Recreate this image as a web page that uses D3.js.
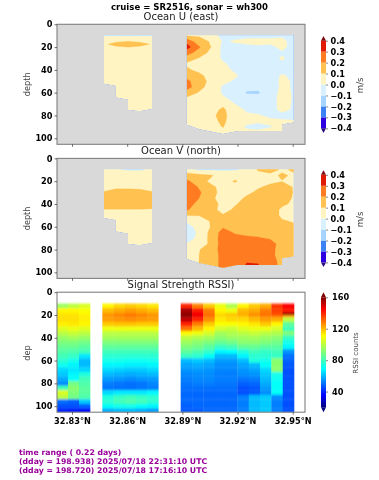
<!DOCTYPE html>
<html><head><meta charset="utf-8">
<script src="https://cdn.jsdelivr.net/npm/d3@7/dist/d3.min.js"></script>
<style>html,body{margin:0;padding:0;background:#fff}svg{display:block;filter:blur(0.35px)}text{font-family:"DejaVu Sans",sans-serif}</style>
</head><body><svg id="c" width="379" height="480"></svg>
<script>
const suptitle = "cruise = SR2516,  sonar = wh300";
const panelTitles = ["Ocean U (east)", "Ocean V (north)", "Signal Strength RSSI)"];
const yLabels = ["depth", "depth", "dep"];
const footer = ["time range ( 0.22 days)", "(dday = 198.938) 2025/07/18 22:31:10 UTC", "(dday = 198.720) 2025/07/18 17:16:10 UTC"];
const latTicks = [32.83, 32.86, 32.89, 32.92, 32.95];
const depthTicks = [0, 20, 40, 60, 80, 100];
const velTicks = [0.4, 0.3, 0.2, 0.1, 0, -0.1, -0.2, -0.3, -0.4];
const rssiTicks = [40, 80, 120, 160];

// contour grid
const gridDepths = [10,15,20,25,30,35,40,45,50,55,60,65,70,75,80,85,90,95,100];
const gridDepthsUA = [10,12,15,17.5,20,25,30,35,40,45,50,55,60,65,70,75,80,85,90,95,100];
const latsA = [32.8474,32.8539,32.8605,32.8670,32.8735];
const latsB = [32.8925,32.8991,32.9056,32.9121,32.9186,32.9251,32.9312,32.9377,32.9442,32.9507];
// valid-data outlines
const edgeALat = [32.8474,32.8539,32.8539,32.8605,32.8605,32.8670,32.8735];
const edgeADepth = [52,54,64,66,75,76,74];
const edgeBLat = [32.8925,32.8991,32.9121,32.9197,32.9442,32.9442,32.9505];
const edgeBDepth = [88,91.8,96,93.6,93.6,87.7,86];
const topDepth = 9.6;

// velocity in cm/s; rows follow the depth lists above
const uA = [
[-1,-1,-1,-1,-1],[3,4,4,4,3],[6,9,10.2,9,6],[9,12,12,12,9.5],[6,9,10.2,9,6],[5,6,6,6,5],[5,5,5,5,5],[4,5,5,5,4],[4,4,5,4,4],[4,4,4,4,4],[4,5,5,4,4],[4,5,5,5,4],
[4,5,6,5,5],[5,5,6,5,5],[5,6,6,6,5],[5,6,6,6,5],[5,6,6,6,5],[5,5,6,5,5],[5,5,5,5,5],[5,5,5,5,5],[5,5,5,5,5]];
const uB = [
[10,9,3,-2,-3,-2,-2,-2,-1,-3],
[27,14,9,-1,1,2,2,2,2,-3],
[34,21,10,-3,-3,-2,-1,-2,2,-3],
[24,16,7,-2,-3,-3,-3,-3,-1,-3],
[15,9,4,-1,-3,-3,-3,-3,1,-3],
[8,6,4,1,-2,-3,-3,-3,-2,-3],
[12,7,4,2,-1,-3,-3,-3,-3,-3],
[17,13,5,3,1,-3,-3,-4,1,-2],
[22,15,7,2,-1,-4,-5,-5,2,-1],
[24,14,5,-1,-3,-7,-8,-6,2,-1],
[16,9,5,-1,-4,-11,-11,-5,3,-1],
[8,6,4,1,-2,-6,-7,-5,4,-1],
[6,5,5,8,0,-4,-4,-4,3,-1],
[5,5,6,12,3,-1,-2,-3,2,-1],
[5,5,8,13,4,1,0.5,-1,-2,-2],
[5,5,7,12,4,2,1,1,1,0.5],
[5,5,6,10.5,3,-1,-2,-0.3,1,1],
[5,5,5,6,3,2,2,2,2,2],
[5,5,5,5,3,2,2,2,2,2]];
const vA = [
[2,1,-1,-1,2],[5,5,6,6,5],[5,5,6,6,5],[8,9,9,8.5,8],[10.5,12,12,12,10.5],[14,14,14,14,14],[13,13,13,13,13],[9.8,9.8,9.8,9.8,9.5],[6,6,6,6,6],[5,5,5,5,5],
[5,5,5,5,5],[5,5,4,5,5],[5,5,4,5,5],[5,5,4,4,5],[5,5,4,4,5],[5,4,4,4,5],[5,4,4,4,5],[5,4,4,4,5],[5,4,4,4,5]];
const vB = [
[5,-1,-1,-1,-1,3,11,13,9,11],
[14,13,11,5,6,7,6,8,11,9],
[22,14,8,6,11,6,8,9,9.8,9],
[28,19,12,7,7,8,9.5,11,13,9.5],
[29,21.5,13,7,7,9,11,14,15,9.5],
[27,20,12,6,8,11,15,16,14,9],
[24,17,13,8,9.5,12,15,16,12,8],
[21,15,12,8,11,14,16,16,8,7],
[10.3,10.5,11,10.5,14,16,17,16,8,7],
[1,4,11,13,15,16,16,16,11,9],
[-3,3,10.5,19,16,16,16,16,13,12],
[-6,2,13,24,19,17,16,17,15,13],
[-5,3,13,25,23,22,21,19,15,14],
[0.5,5,12,25,24,24,24,24,16,14],
[3,9.5,15,24,25,25,25,23,16,14],
[4,10,15,23,25,26,26,22,17,15],
[4,10,15,23,26,29,29,24,17,15],
[4,11,15,23,24,32,31,25,17,15],
[4,11,15,23,24,32,31,25,17,15]];
const velLevels = [-40,-30,-20,-10,0,10,20,30];
const velColors = ["#2c00e0","#3c82f5","#a6d3ff","#d9f1ff","#fff4c2","#ffc14f","#ff7b22","#e01a04"];
const velOver = "#7d0a12", velUnder = "#2a0a80";

// RSSI
const rssiDepthEdges = [10,14,18,20,22,26,30,34,38,42,46,50,54,58,62,66,70,74,78,82,86,90,94,98,102,106];
const rssiEdgesG1 = [32.8218,32.8278,32.8338,32.8398];
const rssiEdgesG2 = [32.8465,32.8526,32.8587,32.8647,32.8708,32.8769];
const rssiEdgesG3 = [32.8891,32.8953,32.9014,32.9076,32.9137,32.9199,32.9261,32.9322,32.9384,32.9446,32.9507];
const rssiG1 = [
[95,112,114,115,115,113,106,100,94,90,86,83,80,76,71,64,62,58,54,80,105,100,50,46,40],
[100,112,114,115,115,114,108,102,96,90,86,82,78,72,68,66,68,70,88,92,90,88,48,46,38],
[105,110,112,113,113,112,106,100,94,88,84,80,66,60,60,64,74,80,82,84,84,82,62,48,37]];
const rssiG2 = [
[112,120,124,125,124,118,108,100,96,90,85,80,76,72,68,64,60,56,52,51,64,74,76,70,58],
[116,122,126,127,125,119,108,100,96,90,85,80,76,72,68,63,59,55,51,50,66,78,80,72,60],
[118,124,128,129,126,119,108,100,96,90,85,80,76,71,67,62,58,54,50,50,66,80,82,72,60],
[116,122,126,127,125,118,108,100,96,90,85,80,76,71,67,62,59,55,51,51,66,78,80,70,58],
[114,120,124,125,124,118,108,100,96,90,85,80,76,72,68,64,60,56,53,52,68,76,76,68,56]];
const rssiG3 = [
[140,155,158,158,152,140,130,112,100,95,90,85,78,60,57,55,53,52,51,50,49,49,49,48,47],
[128,142,146,146,140,128,120,108,98,92,88,82,76,62,58,56,54,53,52,50,49,49,49,49,47],
[118,128,130,130,126,118,112,104,96,90,84,78,70,60,57,55,54,53,52,50,49,49,49,49,49],
[108,112,116,116,114,110,104,96,92,86,78,68,60,56,54,53,52,52,51,50,49,49,49,49,49],
[98,108,118,118,116,110,102,98,94,88,80,70,60,56,54,53,52,52,51,50,49,49,49,49,49],
[112,120,122,120,116,112,106,100,95,92,85,75,68,60,57,55,54,51,48,46,46,52,52,52,52],
[118,122,126,124,120,114,108,102,96,92,86,80,76,74,60,57,55,52,49,47,47,60,60,60,60],
[122,128,130,128,124,118,108,100,94,90,84,78,76,72,70,64,62,60,58,56,54,62,62,62,62],
[138,136,135,130,122,112,104,98,92,88,84,80,78,92,92,92,72,71,70,70,70,54,52,52,52],
[145,142,165,125,100,85,80,90,78,72,68,55,50,48,47,46,46,46,46,46,46,46,46,46,46]];
const jetStops = [0,0.11,0.35,0.5,0.65,0.89,1];
const jetColors = ["#00007f","#0000ff","#00ffff","#7dff7a","#ffff00","#ff0000","#7f0000"];
const rssiMin = 20, rssiMax = 160;

const svg = d3.select("#c");
const X0 = 57, X1 = 305, PH = 120;
const tops = [24.3, 158.4, 292.2];
const x = d3.scaleLinear().domain([32.83, 32.95]).range([72, 292.7]);
const ys = tops.map(t => d3.scaleLinear().domain([0, 105.3]).range([t, t + PH]));
const jet = d3.scaleLinear().domain(jetStops.map(s => rssiMin + s * (rssiMax - rssiMin))).range(jetColors).clamp(true);
const defs = svg.append("defs");
const GREY = "#808080", LAB = "#444";

svg.append("text").attr("x",189.5).attr("y",10).attr("text-anchor","middle").attr("font-size",8.55).attr("font-weight","bold").text(suptitle);

function contourGroup(g, y, vals, depths, lats, edgeLat, edgeDepth, id) {
  const n = lats.length, m = depths.length;
  const poly = edgeLat.map((a,i)=>[x(a), y(edgeDepth[i])]);
  poly.push([x(edgeLat[edgeLat.length-1]), y(topDepth)], [x(edgeLat[0]), y(topDepth)]);
  defs.append("clipPath").attr("id",id).append("polygon").attr("points",poly.map(p=>p.join(",")).join(" "));
  const xi = d3.scaleLinear().domain(d3.range(n)).range(lats);
  const yi = d3.scaleLinear().domain(d3.range(m)).range(depths);
  const path = d3.geoPath(d3.geoTransform({point(px,py){ this.stream.point(x(xi(px-0.5)), y(yi(py-0.5))); }}));
  const conts = d3.contours().size([n,m]).smooth(true).thresholds(velLevels)(vals.flat());
  const grp = g.append("g").attr("clip-path",`url(#${id})`);
  grp.selectAll("path").data(conts).join("path")
    .attr("d",path).attr("fill",(d,i)=>velColors[i]).attr("stroke",(d,i)=>velColors[i]).attr("stroke-width",0.2);
}

function frame(i, showLabels) {
  const y = ys[i];
  const g = svg.append("g");
  g.append("rect").attr("x",X0).attr("y",tops[i]).attr("width",X1-X0).attr("height",PH)
    .attr("fill","none").attr("stroke",GREY).attr("stroke-width",1.1);
  const ay = g.append("g").attr("transform",`translate(${X0},0)`).call(d3.axisLeft(y).tickValues(depthTicks).tickSize(2.5).tickPadding(2));
  const ax = g.append("g").attr("transform",`translate(0,${tops[i]+PH})`).call(d3.axisBottom(x).tickValues(latTicks).tickSize(2.5).tickPadding(3)
     .tickFormat(d => showLabels ? d.toFixed(2)+"°N" : ""));
  [ay,ax].forEach(a=>{a.select(".domain").remove(); a.selectAll("line").attr("stroke","#333").attr("stroke-width",0.7);
    a.selectAll("text").attr("font-family",'"DejaVu Sans"').attr("font-size",8.2).attr("font-weight","bold").attr("fill","#000");});
  svg.append("text").attr("x",181).attr("y",tops[i]-4.6).attr("text-anchor","middle").attr("font-size",10).attr("fill","#222").text(panelTitles[i]);
  svg.append("text").attr("transform",`translate(30,${i==2?353:tops[i]+60}) rotate(-90)`).attr("text-anchor","middle").attr("font-size",8.2).attr("fill",LAB).text(yLabels[i]);
}

function velPanel(i, A, depthsA, B) {
  const y = ys[i];
  const g = svg.append("g");
  g.append("rect").attr("x",X0).attr("y",tops[i]).attr("width",X1-X0).attr("height",PH).attr("fill","#d9d9d9");
  contourGroup(g, y, A, depthsA, latsA, edgeALat, edgeADepth, "a"+i);
  contourGroup(g, y, B, gridDepths, latsB, edgeBLat, edgeBDepth, "b"+i);
  frame(i, false);
  const cy = d3.scaleLinear().domain([-0.4,0.4]).range([tops[i]+104, tops[i]+16.4]);
  const cx = 321, cw = 5;
  const cb = svg.append("g");
  cb.selectAll("rect").data(velLevels).join("rect").attr("x",cx).attr("width",cw)
    .attr("y",d=>cy((d+10)/100)).attr("height",d=>cy(d/100)-cy((d+10)/100)).attr("fill",(d,k)=>velColors[k]);
  const t = cy(0.4), b = cy(-0.4);
  cb.append("polygon").attr("points",`${cx},${t} ${cx+cw},${t} ${cx+cw/2},${t-4.6}`).attr("fill",velOver);
  cb.append("polygon").attr("points",`${cx},${b} ${cx+cw},${b} ${cx+cw/2},${b+4.6}`).attr("fill",velUnder);
  const a = svg.append("g").attr("transform",`translate(${cx+cw},0)`).call(d3.axisRight(cy).tickValues(velTicks).tickSize(2).tickPadding(2.5)
     .tickFormat(d=>d3.format(".1f")(d).replace("-","\u2212")));
  a.select(".domain").remove();
  a.selectAll("line").attr("stroke","#333").attr("stroke-width",0.6);
  a.selectAll("text").attr("font-family",'"DejaVu Sans"').attr("font-size",8.2).attr("font-weight","bold").attr("fill","#000");
  svg.append("text").attr("transform",`translate(363,${tops[i]+61}) rotate(-90)`).attr("text-anchor","middle").attr("font-size",8.6).attr("fill",LAB).text("m/s");
}

velPanel(0, uA, gridDepthsUA, uB);
velPanel(1, vA, gridDepths, vB);

// RSSI pcolor
(function(){
  const y = ys[2];
  const g = svg.append("g");
  defs.append("clipPath").attr("id","rc").append("rect").attr("x",X0).attr("y",tops[2]).attr("width",X1-X0).attr("height",PH);
  const f = defs.append("filter").attr("id","soft").attr("filterUnits","userSpaceOnUse").attr("x",0).attr("y",280).attr("width",379).attr("height",150);
  f.append("feGaussianBlur").attr("stdDeviation","0.35 1.0");
  const cg = g.append("g").attr("clip-path","url(#rc)").append("g").attr("filter","url(#soft)");
  [[rssiEdgesG1,rssiG1],[rssiEdgesG2,rssiG2],[rssiEdgesG3,rssiG3]].forEach(([ed,cols])=>{
    cols.forEach((col,c)=>{
      col.forEach((v,r)=>{
        cg.append("rect").attr("x",x(ed[c])).attr("width",x(ed[c+1])-x(ed[c])+0.3)
          .attr("y",y(rssiDepthEdges[r])).attr("height",y(rssiDepthEdges[r+1])-y(rssiDepthEdges[r])+0.3)
          .attr("fill",jet(v));
      });
    });
  });
  frame(2, true);
  const cy = d3.scaleLinear().domain([rssiMin,rssiMax]).range([407.3,297.3]);
  const cx = 321, cw = 5;
  const gr = defs.append("linearGradient").attr("id","jetg").attr("x1",0).attr("y1",1).attr("x2",0).attr("y2",0);
  jetStops.forEach((s,k)=>gr.append("stop").attr("offset",s).attr("stop-color",jetColors[k]));
  svg.append("rect").attr("x",cx).attr("y",cy(rssiMax)).attr("width",cw).attr("height",cy(rssiMin)-cy(rssiMax)).attr("fill","url(#jetg)");
  svg.append("polygon").attr("points",`${cx},${cy(rssiMax)} ${cx+cw},${cy(rssiMax)} ${cx+cw/2},${cy(rssiMax)-5}`).attr("fill","#7f0000");
  svg.append("polygon").attr("points",`${cx},${cy(rssiMin)} ${cx+cw},${cy(rssiMin)} ${cx+cw/2},${cy(rssiMin)+5}`).attr("fill","#00007f");
  const a = svg.append("g").attr("transform",`translate(${cx+cw},0)`).call(d3.axisRight(cy).tickValues(rssiTicks).tickSize(2).tickPadding(4));
  a.select(".domain").remove();
  a.selectAll("line").attr("stroke","#333").attr("stroke-width",0.6);
  a.selectAll("text").attr("font-family",'"DejaVu Sans"').attr("font-size",8.2).attr("font-weight","bold").attr("fill","#000");
  svg.append("text").attr("transform",`translate(358,353) rotate(-90)`).attr("text-anchor","middle").attr("font-size",7).attr("fill",LAB).text("RSSI counts");
})();

svg.selectAll(".foot").data(footer).join("text").attr("class","foot").attr("x",19).attr("y",(d,i)=>455+i*9)
  .attr("font-size",7.75).attr("font-weight","bold").attr("fill","#990099").text(d=>d);
</script></body></html>
